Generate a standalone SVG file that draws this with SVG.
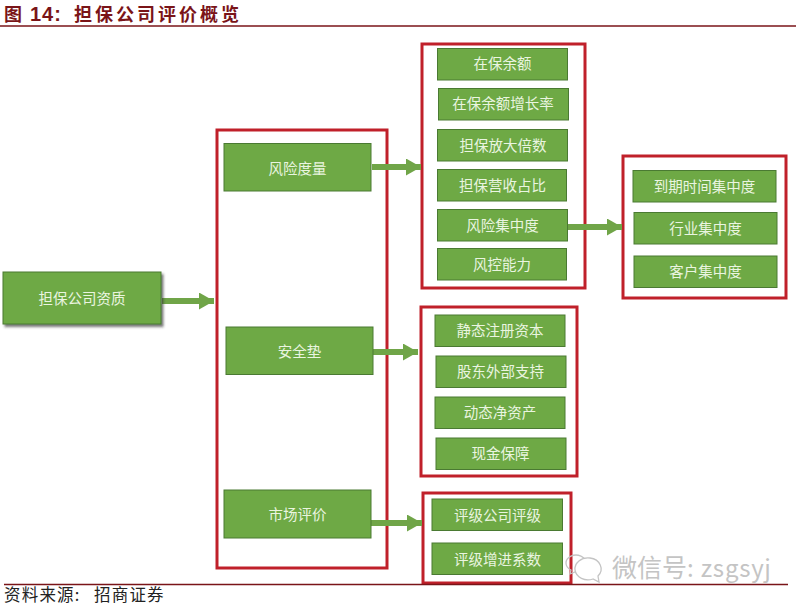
<svg xmlns="http://www.w3.org/2000/svg" width="796" height="606" viewBox="0 0 796 606">
<style>
.cjk{font-family:"Noto Sans CJK SC","Liberation Sans",sans-serif}
.n rect{fill:#6ea945;stroke:#4a7a32;stroke-width:1}
.n text{font-family:"Noto Sans CJK SC",sans-serif;font-size:14.5px;fill:#eaf5e0;text-anchor:middle;dominant-baseline:central}
.f{fill:none;stroke:#c0202a;stroke-width:3}
.c line{stroke:#70a548;stroke-width:6;marker-end:url(#ah)}
.r{stroke:#7a1418;stroke-width:1.5}
</style>
<defs>
<marker id="ah" markerUnits="userSpaceOnUse" markerWidth="16" markerHeight="18" refX="15" refY="8.500" orient="auto"><path d="M0 0L15 8.500L0 17Z" fill="#70a548"/></marker>
<filter id="sh" x="-10%" y="-10%" width="120%" height="130%"><feDropShadow dx="2" dy="2.500" stdDeviation="1.200" flood-color="#333" flood-opacity=".65"/></filter>
</defs>
<rect width="796" height="606" fill="#fff"/>
<g id="header"><text y="21" class="cjk" font-size="18" font-weight="700" fill="#7a1418"><tspan x="4">图</tspan><tspan x="30" font-family="Liberation Sans" font-size="20" letter-spacing="1">14:</tspan><tspan x="74" letter-spacing="3">担保公司评价概览</tspan></text>
<line class="r" x1="0" y1="26" x2="796" y2="26"/></g>
<g id="frames">
<rect class="f" x="217" y="130" width="170" height="438"/>
<rect class="f" x="422" y="44" width="163" height="244"/>
<rect class="f" x="623" y="156" width="163" height="142"/>
<rect class="f" x="421" y="307" width="156" height="169"/>
<rect class="f" x="423" y="493" width="148" height="90"/>
</g>
<g id="connectors" class="c">
<line x1="162" y1="301" x2="214" y2="301"/>
<line x1="372" y1="167" x2="421" y2="167"/>
<line x1="373" y1="352" x2="418" y2="352"/>
<line x1="371" y1="523" x2="422" y2="523"/>
<line x1="568" y1="227" x2="622" y2="227"/>
</g>
<g id="n0" class="n"><rect x="3" y="272" width="158" height="52" filter="url(#sh)"/><text x="82" y="297">担保公司资质</text></g>
<g id="n1" class="n"><rect x="224" y="143.500" width="147" height="47.500"/><text x="297.500" y="167">风险度量</text></g>
<g id="n2" class="n"><rect x="226" y="327" width="147" height="47.500"/><text x="299.500" y="350">安全垫</text></g>
<g id="n3" class="n"><rect x="224" y="490" width="147" height="48"/><text x="297.500" y="513">市场评价</text></g>
<g id="n4" class="n"><rect x="437.500" y="48.500" width="130" height="31.500"/><text x="502.500" y="62.500">在保余额</text></g>
<g id="n5" class="n"><rect x="438.500" y="88.500" width="130" height="31.500"/><text x="503" y="102.500">在保余额增长率</text></g>
<g id="n6" class="n"><rect x="437.500" y="129.500" width="130" height="31.500"/><text x="503" y="144">担保放大倍数</text></g>
<g id="n7" class="n"><rect x="437.500" y="169.500" width="129" height="31.500"/><text x="502.500" y="184">担保营收占比</text></g>
<g id="n8" class="n"><rect x="437.500" y="209.500" width="130" height="31.500"/><text x="502.500" y="224.500">风险集中度</text></g>
<g id="n9" class="n"><rect x="437.500" y="248.500" width="129" height="31.500"/><text x="502" y="263.500">风控能力</text></g>
<g id="n10" class="n"><rect x="633" y="170.500" width="143" height="31.500"/><text x="704.500" y="185.500">到期时间集中度</text></g>
<g id="n11" class="n"><rect x="634" y="212.500" width="143" height="31.500"/><text x="705.500" y="227.500">行业集中度</text></g>
<g id="n12" class="n"><rect x="634" y="256" width="143" height="31.500"/><text x="705.500" y="270">客户集中度</text></g>
<g id="n13" class="n"><rect x="435" y="315" width="130" height="31.500"/><text x="500" y="329">静态注册资本</text></g>
<g id="n14" class="n"><rect x="436" y="356" width="130" height="31.500"/><text x="500.500" y="370">股东外部支持</text></g>
<g id="n15" class="n"><rect x="435" y="397" width="130" height="31.500"/><text x="500" y="411">动态净资产</text></g>
<g id="n16" class="n"><rect x="436" y="438" width="130" height="31.500"/><text x="500.500" y="452">现金保障</text></g>
<g id="n17" class="n"><rect x="432" y="499" width="130.500" height="31.500"/><text x="497.500" y="514">评级公司评级</text></g>
<g id="n18" class="n"><rect x="432" y="543" width="130.500" height="31.500"/><text x="497.500" y="558.500">评级增进系数</text></g>
<g id="footer"><line class="r" x1="4" y1="584.500" x2="788" y2="584.500"/>
<text y="601" class="cjk" font-size="16.500" letter-spacing="1.200" fill="#222"><tspan x="4">资料来源:</tspan><tspan x="94">招商证券</tspan></text></g>
<g id="watermark" fill="none" stroke="#c4c4c4" stroke-width="1.300">
<path d="M586 563a10 8 0 1 0-15 7l-1 4 5-2q2 .8 3 .5"/>
<path d="M590 558a13 11 0 1 0 3 21l6 3-1-6a13 11 0 0 0-8-18Z" fill="#fff"/>
<text x="612" y="577" class="cjk" font-size="25" fill="#c4c4c4" stroke="none">微信号<tspan font-size="24" letter-spacing=".8">: zsgsyj</tspan></text>
</g>
</svg>
